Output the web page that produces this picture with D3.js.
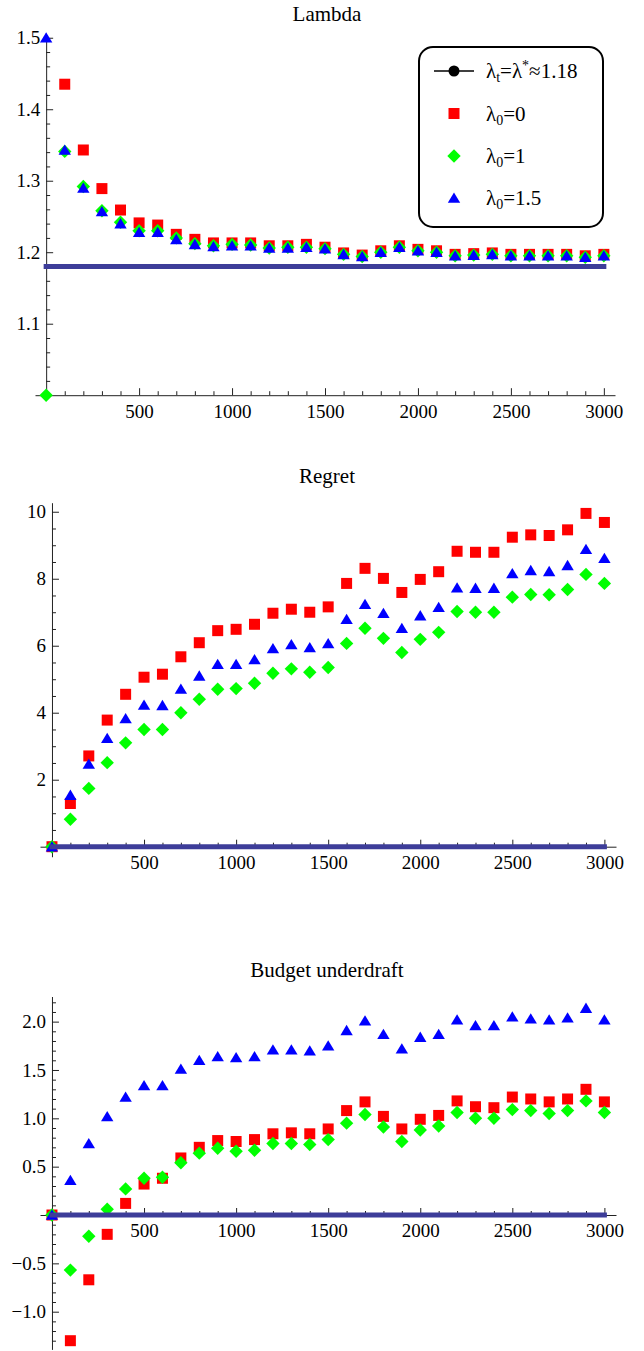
<!DOCTYPE html>
<html>
<head>
<meta charset="utf-8">
<script src="https://cdn.jsdelivr.net/npm/d3@7"></script>
<style>
  body { margin: 0; background: #fff; }
  svg text { font-family: "Liberation Serif"; }
</style>
</head>
<body>
<div id="chart"></div>
<script>
// iterations on the x axis
const iterations = [0, 100, 200, 300, 400, 500, 600, 700, 800, 900, 1000, 1100, 1200, 1300, 1400, 1500,
    1600, 1700, 1800, 1900, 2000, 2100, 2200, 2300, 2400, 2500, 2600, 2700, 2800, 2900, 3000];

const seriesNames = ["λ0=0", "λ0=1", "λ0=1.5"];
const lambdaStar = 1.18;

// Lambda panel
const lambdaRed = [0, 1.435, 1.343, 1.289, 1.259, 1.241, 1.238, 1.225, 1.218, 1.213, 1.213, 1.213, 1.209, 1.209, 1.211, 1.207,
    1.199, 1.196, 1.202, 1.209, 1.204, 1.202, 1.197, 1.198, 1.199, 1.197, 1.197, 1.197, 1.197, 1.195, 1.197];
const lambdaGreen = [1.0, 1.341, 1.292, 1.258, 1.242, 1.230, 1.230, 1.220, 1.212, 1.209, 1.211, 1.210, 1.206, 1.207, 1.207, 1.205,
    1.197, 1.194, 1.200, 1.207, 1.202, 1.200, 1.195, 1.196, 1.197, 1.195, 1.195, 1.195, 1.195, 1.193, 1.195];
const lambdaBlue = [1.5, 1.343, 1.290, 1.257, 1.240, 1.228, 1.228, 1.218, 1.211, 1.208, 1.209, 1.209, 1.206, 1.206, 1.207, 1.205,
    1.197, 1.194, 1.200, 1.207, 1.202, 1.200, 1.195, 1.196, 1.197, 1.195, 1.195, 1.195, 1.195, 1.193, 1.195];

// Regret panel
const regretRed = [0, 1.29, 2.71, 3.78, 4.55, 5.06, 5.15, 5.67, 6.09, 6.45, 6.49, 6.64, 6.97, 7.09, 7.00, 7.16,
    7.86, 8.31, 8.01, 7.59, 7.98, 8.21, 8.82, 8.79, 8.79, 9.24, 9.31, 9.29, 9.46, 9.95, 9.68];
const regretGreen = [0, 0.82, 1.74, 2.51, 3.10, 3.50, 3.50, 4.00, 4.40, 4.70, 4.72, 4.88, 5.18, 5.31, 5.21, 5.35,
    6.07, 6.52, 6.22, 5.80, 6.19, 6.40, 7.02, 7.00, 7.00, 7.45, 7.53, 7.52, 7.68, 8.13, 7.86];
const regretBlue = [0, 1.54, 2.47, 3.24, 3.83, 4.23, 4.22, 4.71, 5.10, 5.45, 5.45, 5.59, 5.92, 6.04, 5.95, 6.07,
    6.79, 7.24, 6.97, 6.52, 6.90, 7.15, 7.73, 7.72, 7.72, 8.16, 8.25, 8.22, 8.40, 8.88, 8.61];

// Budget underdraft panel
const budgetRed = [0, -1.30, -0.67, -0.20, 0.12, 0.32, 0.38, 0.59, 0.70, 0.77, 0.76, 0.78, 0.84, 0.85, 0.84, 0.89,
    1.08, 1.17, 1.02, 0.89, 0.99, 1.03, 1.18, 1.12, 1.11, 1.22, 1.20, 1.17, 1.20, 1.30, 1.17];
const budgetGreen = [0, -0.57, -0.22, 0.06, 0.27, 0.38, 0.39, 0.54, 0.64, 0.69, 0.66, 0.67, 0.74, 0.74, 0.73, 0.78,
    0.95, 1.04, 0.91, 0.76, 0.88, 0.92, 1.06, 1.00, 1.00, 1.09, 1.08, 1.05, 1.08, 1.18, 1.06];
const budgetBlue = [0, 0.36, 0.74, 1.02, 1.22, 1.34, 1.34, 1.51, 1.60, 1.64, 1.63, 1.64, 1.71, 1.71, 1.70, 1.75,
    1.91, 2.01, 1.87, 1.72, 1.84, 1.87, 2.02, 1.96, 1.96, 2.05, 2.03, 2.02, 2.04, 2.14, 2.02];

// tick labels
const xMajorTicks = [500, 1000, 1500, 2000, 2500, 3000];
const lambdaTicks = [1.1, 1.2, 1.3, 1.4, 1.5];
const regretTicks = [2, 4, 6, 8, 10];
const budgetTicks = [-1.0, -0.5, 0.5, 1.0, 1.5, 2.0];

const serif = '"Liberation Serif"';
const colors = ["#ff0000", "#00ff00", "#0000ff"];
const refColor = "#3d3d99";
const shapes = [
    "M-5.5,-5.5h11v11h-11z",        // square
    "M0,-6.7L6.7,0L0,6.7L-6.7,0Z",   // diamond
    "M0,-5.5L6.2,4.8L-6.2,4.8Z"      // triangle
];

function init() {
    const svg = d3.select("#chart")
        .append("svg")
        .attr("width", 644)
        .attr("height", 1351)
        .attr("font-family", serif);

    const panels = [
        { title: "Lambda", titleY: 21, series: [lambdaRed, lambdaGreen, lambdaBlue], ref: lambdaStar,
          xDomain: [-60, 3060], xRange: [35, 615], yDomain: [1.0, 1.503], yRange: [395.2, 35.6], xAxisAt: 1.0,
          ticks: lambdaTicks, minor: d3.range(1.02, 1.5, 0.02), fmt: d3.format(".1f") },
        { title: "Regret", titleY: 483, series: [regretRed, regretGreen, regretBlue], ref: 0,
          xDomain: [-65, 3063], xRange: [40, 616], yDomain: [-0.3, 10.27], yRange: [856.75, 502.7], xAxisAt: 0,
          ticks: regretTicks, minor: d3.range(0.5, 10.2, 0.5), fmt: d3.format("d") },
        { title: "Budget underdraft", titleY: 977, series: [budgetRed, budgetGreen, budgetBlue], ref: 0,
          xDomain: [-65, 3063], xRange: [40, 616], yDomain: [-1.39, 2.26], yRange: [1349.4, 996.5], xAxisAt: 0,
          ticks: budgetTicks, minor: d3.range(-1.3, 2.25, 0.1), fmt: d3.format(".1f") }
    ];

    panels.forEach(p => drawPanel(svg, p));
    drawLegend(svg);
}

function drawPanel(svg, p) {
    const x = d3.scaleLinear().domain(p.xDomain).range(p.xRange);
    const y = d3.scaleLinear().domain(p.yDomain).range(p.yRange);
    const g = svg.append("g");

    g.append("text")
        .attr("x", 327)
        .attr("y", p.titleY)
        .attr("text-anchor", "middle")
        .style("font-family", serif)
        .style("font-size", "21px")
        .text(p.title);

    const xMinor = iterations.filter(v => v > 0 && v % 500 !== 0);
    const yMinor = p.minor.filter(v => !p.ticks.some(t => Math.abs(t - v) < 1e-6) && Math.abs(v) > 1e-6);

    // x axis, ticks point inward
    const xg = g.append("g").attr("transform", `translate(0,${y(p.xAxisAt)})`);
    xg.append("g")
        .call(d3.axisBottom(x).tickValues(xMinor).tickSizeInner(-4).tickSizeOuter(0).tickFormat(""))
        .select(".domain").remove();
    xg.append("g")
        .call(d3.axisBottom(x).tickValues(xMajorTicks).tickSizeInner(-7).tickSizeOuter(0).tickPadding(9)
            .tickFormat(d3.format("d")))
        .attr("font-family", serif)
        .selectAll("text")
        .style("font-family", serif)
        .style("font-size", "19px")
        .attr("fill", "#000");

    // y axis
    const yg = g.append("g").attr("transform", `translate(${x(0)},0)`);
    yg.append("g")
        .call(d3.axisLeft(y).tickValues(yMinor).tickSizeInner(-4).tickSizeOuter(0).tickFormat(""))
        .select(".domain").remove();
    yg.append("g")
        .call(d3.axisLeft(y).tickValues(p.ticks).tickSizeInner(-7).tickSizeOuter(0).tickPadding(6).tickFormat(p.fmt))
        .attr("font-family", serif)
        .selectAll("text")
        .style("font-family", serif)
        .style("font-size", "19px")
        .attr("fill", "#000");

    g.selectAll(".domain, .tick line").attr("stroke", "#222");

    // data points, red then green then blue on top
    const [y0, y1] = p.yDomain;
    p.series.forEach((vals, i) => {
        const pts = iterations.map((t, j) => ({ t: t, v: vals[j] }))
            .filter(d => d.v >= y0 - 0.005 && d.v <= y1 + 0.005);
        g.append("g").selectAll("path")
            .data(pts)
            .enter()
            .append("path")
            .attr("d", shapes[i])
            .attr("transform", d => `translate(${x(d.t)},${y(d.v)})`)
            .attr("fill", colors[i]);
    });

    // reference line lambda_t = lambda*
    g.append("line")
        .attr("x1", x(iterations[0]))
        .attr("x2", x(iterations[iterations.length - 1]))
        .attr("y1", y(p.ref))
        .attr("y2", y(p.ref))
        .attr("stroke", refColor)
        .attr("stroke-width", 5)
        .attr("stroke-linecap", "square");
}

function drawLegend(svg) {
    const legend = svg.append("g").attr("class", "legend");
    legend.append("rect")
        .attr("x", 419).attr("y", 47)
        .attr("width", 184).attr("height", 180)
        .attr("rx", 14)
        .attr("fill", "#fff")
        .attr("stroke", "#000")
        .attr("stroke-width", 2);

    const rowY = [71, 113.5, 156, 198];
    const mx = 454, tx = 486;

    // first entry: line with circle
    legend.append("line")
        .attr("x1", 434).attr("x2", 474)
        .attr("y1", rowY[0]).attr("y2", rowY[0])
        .attr("stroke", "#000").attr("stroke-width", 1.3);
    legend.append("circle")
        .attr("cx", mx).attr("cy", rowY[0]).attr("r", 5.5).attr("fill", "#000");

    const t0 = legend.append("text")
        .attr("x", tx).attr("y", rowY[0] + 7)
        .style("font-family", serif)
        .style("font-size", "21px");
    t0.append("tspan").text("λ");
    t0.append("tspan").attr("dy", 4).style("font-size", "14px").text("t");
    t0.append("tspan").attr("dy", -4).text("=λ");
    t0.append("tspan").attr("dy", -8).style("font-size", "14px").text("*");
    t0.append("tspan").attr("dy", 8).text("≈1.18");

    seriesNames.forEach((name, i) => {
        const cy = rowY[i + 1];
        legend.append("path")
            .attr("d", shapes[i])
            .attr("transform", `translate(${mx},${cy})`)
            .attr("fill", colors[i]);
        const t = legend.append("text")
            .attr("x", tx).attr("y", cy + 7)
            .style("font-family", serif)
            .style("font-size", "21px");
        t.append("tspan").text("λ");
        t.append("tspan").attr("dy", 4).style("font-size", "14px").text("0");
        t.append("tspan").attr("dy", -4).text(name.slice(2));
    });
}

init();
</script>
</body>
</html>
